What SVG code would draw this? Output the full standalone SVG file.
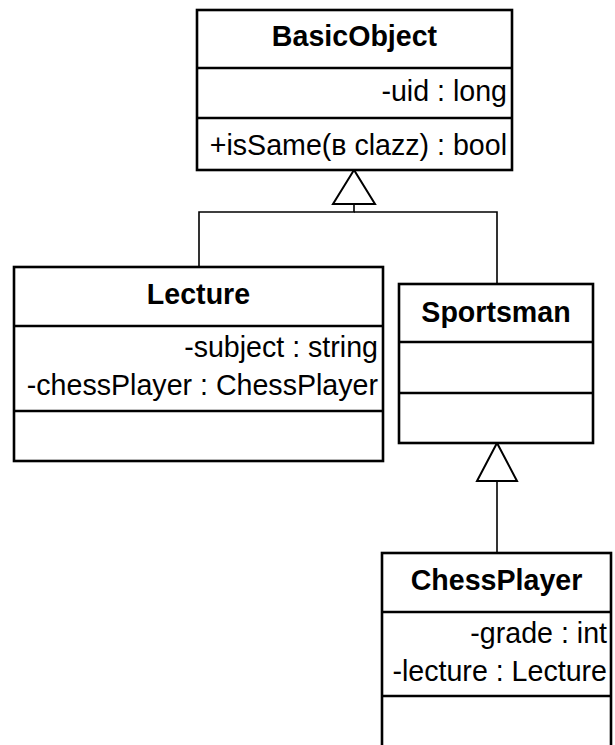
<svg xmlns="http://www.w3.org/2000/svg" width="615" height="745" viewBox="0 0 615 745">
<style>
.box{fill:#fff;stroke:#000;stroke-width:2.6}
.div{stroke:#000;stroke-width:2.6}
.t{font-family:"Liberation Sans",Arial,sans-serif;font-size:28.6px;fill:#000}
.b{font-weight:bold;text-anchor:middle}
.r{text-anchor:end}
.c{fill:none;stroke:#000;stroke-width:1.6}
.tri{fill:#fff;stroke:#000;stroke-width:2}
</style>
<rect width="615" height="745" fill="#fff"/>
<g id="connectors">
<polyline class="c" points="354,204 354,212 199,212 199,267"/>
<polyline class="c" points="354,212 497,212 497,284"/>
<polygon class="tri" points="354,170 333,204 375,204"/>
<line class="c" x1="497" y1="481" x2="497" y2="553"/>
<polygon class="tri" points="497,443 477,481 517,481"/>
</g>
<g id="BasicObject">
<rect class="box" x="197" y="10" width="315" height="160"/>
<line class="div" x1="197" y1="68" x2="512" y2="68"/>
<line class="div" x1="197" y1="118" x2="512" y2="118"/>
<text class="t b" x="354.5" y="46">BasicObject</text>
<text class="t r" x="507" y="101">-uid : long</text>
<text class="t r" x="507" y="155">+isSame(в clazz) : bool</text>
</g>
<g id="Lecture">
<rect class="box" x="14" y="267" width="369" height="194"/>
<line class="div" x1="14" y1="326" x2="383" y2="326"/>
<line class="div" x1="14" y1="411" x2="383" y2="411"/>
<text class="t b" x="198.5" y="304">Lecture</text>
<text class="t r" x="378" y="357">-subject : string</text>
<text class="t r" x="378" y="395">-chessPlayer : ChessPlayer</text>
</g>
<g id="Sportsman">
<rect class="box" x="399" y="284" width="194" height="159"/>
<line class="div" x1="399" y1="342" x2="593" y2="342"/>
<line class="div" x1="399" y1="393" x2="593" y2="393"/>
<text class="t b" x="496" y="322">Sportsman</text>
</g>
<g id="ChessPlayer">
<rect class="box" x="382" y="553" width="229" height="220"/>
<line class="div" x1="382" y1="612" x2="611" y2="612"/>
<line class="div" x1="382" y1="696" x2="611" y2="696"/>
<text class="t b" x="496.5" y="590">ChessPlayer</text>
<text class="t r" x="607" y="643">-grade : int</text>
<text class="t r" x="607" y="681">-lecture : Lecture</text>
</g>
</svg>
